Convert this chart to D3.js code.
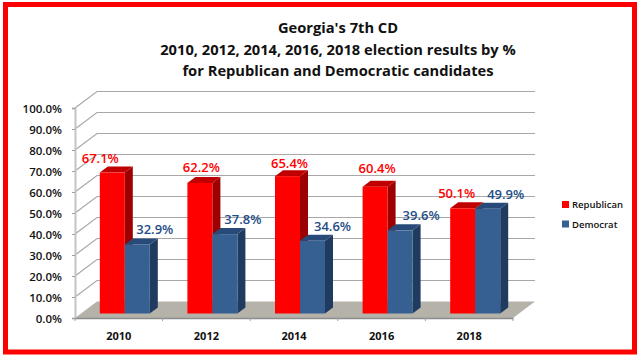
<!DOCTYPE html>
<html>
<head>
<meta charset="utf-8">
<script src="https://cdn.jsdelivr.net/npm/d3@7"></script>
<style>
html,body{margin:0;padding:0;background:#fff;overflow:hidden}
text{font-family:"Open Sans",sans-serif}
</style>
</head>
<body>
<script>
//DATA
const titleLines = ["Georgia's 7th CD", "2010, 2012, 2014, 2016, 2018 election results by %", "for Republican and Democratic candidates"]
const years = ["2010", "2012", "2014", "2016", "2018"]
const republican = [67.1, 62.2, 65.4, 60.4, 50.1]
const democrat = [32.9, 37.8, 34.6, 39.6, 49.9]
const seriesNames = ["Republican", "Democrat"]
const yTicks = [0, 10, 20, 30, 40, 50, 60, 70, 80, 90, 100]

//LABELS WERE HAND PLACED IN THE ORIGINAL, SO THEY GET A NUDGE EACH
const repNudge = [-12, 1.5, 2, 2, -6]
const repLift = [0, 1, -2, 3.5, 0]
const demNudge = [17.5, 18, 20, 21, 18]

//USEFUL VARIABLES
const width = 640, height = 357
const plot = {left: 75, right: 513, top: 108, bottom: 318}
const wall = {dx: 22, dy: 16.5} //DEPTH OF THE 3D BOX
const bar = {dx: 8, dy: 6, shiftX: 6, shiftY: 4.5, width: 25}
const colors = {
    rep: {front: "#ff0000", top: "#c00000", side: "#9c0000"},
    dem: {front: "#376092", top: "#274a78", side: "#1f3b60"},
}

const svg = d3.select("body").append("svg")
    .attr("width", width).attr("height", height)
    .style("display", "block")

//DEFINING SCALES
const X = d3.scaleBand().domain(years).range([plot.left, plot.right])
const Y = d3.scaleLinear().domain([0, 100]).range([plot.bottom, plot.top])

//BORDER
svg.append("rect")
    .attr("x", 5.5).attr("y", 4.5)
    .attr("width", 629).attr("height", 347.5)
    .attr("fill", "#fff").attr("stroke", "#ff0000").attr("stroke-width", 5)

//TITLE
svg.append("g").selectAll("text").data(titleLines).enter().append("text")
    .attr("x", 338)
    .attr("y", (d, i) => 33 + i * 21.5)
    .attr("text-anchor", "middle")
    .attr("font-size", 14.7)
    .attr("font-weight", 700)
    .attr("fill", "#111")
    .text(d => d)

//FLOOR
svg.append("path")
    .attr("d", `M${plot.left},${plot.bottom}L${plot.left + wall.dx},${plot.bottom - wall.dy}L${plot.right + wall.dx},${plot.bottom - wall.dy}L${plot.right},${plot.bottom}Z`)
    .attr("fill", "#b5b2aa")

//GRIDLINES ON THE WALLS
const grid = svg.append("g").attr("fill", "none").attr("stroke", "#a8a8a8").attr("stroke-width", 1.2)
yTicks.filter(d => d > 0).forEach(d => {
    grid.append("path")
        .attr("d", `M${plot.left},${Y(d)}L${plot.left + wall.dx},${Y(d) - wall.dy}L${plot.right + wall.dx},${Y(d) - wall.dy}`)
})

//AXES
const yaxis = svg.append("g")
    .attr("transform", `translate(${plot.left},0)`)
    .call(d3.axisLeft(Y).tickValues(yTicks).tickFormat(d => d.toFixed(1) + "%").tickSize(3).tickPadding(10))
const xaxis = svg.append("g")
    .attr("transform", `translate(0,${plot.bottom})`)
    .call(d3.axisBottom(X).tickSize(0).tickPadding(14))
yaxis.select(".domain").attr("stroke", "#c4c4c4").attr("stroke-width", 2)
yaxis.selectAll(".tick line").attr("stroke", "#a0a0a0")
yaxis.selectAll("text").attr("font-size", 11.5).attr("font-weight", 600).attr("fill", "#111")
    .attr("y", 1)
    .attr("font-family", '"Open Sans",sans-serif')
xaxis.select(".domain").attr("stroke", "#8c8c8c").attr("stroke-width", 1.5)
xaxis.selectAll("text").attr("font-size", 11).attr("font-weight", 700).attr("fill", "#111")
    .attr("font-family", '"Open Sans",sans-serif')

//X TICK MARKS SIT BETWEEN THE CATEGORIES
svg.append("g").selectAll("line").data(years.concat("end")).enter().append("line")
    .attr("x1", (d, i) => plot.left + i * X.bandwidth())
    .attr("x2", (d, i) => plot.left + i * X.bandwidth())
    .attr("y1", plot.bottom).attr("y2", plot.bottom + 3)
    .attr("stroke", "#a0a0a0")

//BARS
const drawBar = (g, x, value, c) => {
    const x0 = x, x1 = x + bar.width
    const y0 = Y(0) - bar.shiftY
    const y1 = Y(value) - bar.shiftY
    g.append("path").attr("fill", c.side)
        .attr("d", `M${x1},${y1}L${x1 + bar.dx},${y1 - bar.dy}L${x1 + bar.dx},${y0 - bar.dy}L${x1},${y0}Z`)
    g.append("path").attr("fill", c.top)
        .attr("d", `M${x0},${y1}L${x0 + bar.dx},${y1 - bar.dy}L${x1 + bar.dx},${y1 - bar.dy}L${x1},${y1}Z`)
    g.append("rect").attr("fill", c.front)
        .attr("x", x0).attr("y", y1).attr("width", bar.width).attr("height", y0 - y1)
}

const bars = svg.append("g")
years.forEach((year, i) => {
    const mid = X(year) + X.bandwidth() / 2 + bar.shiftX
    drawBar(bars, mid - bar.width, republican[i], colors.rep)
    drawBar(bars, mid, democrat[i], colors.dem)
})

//DATA LABELS
const labels = svg.append("g").attr("font-size", 13).attr("text-anchor", "middle")
years.forEach((year, i) => {
    const mid = X(year) + X.bandwidth() / 2 + bar.shiftX
    labels.append("text")
        .attr("x", mid - bar.width / 2 + repNudge[i])
        .attr("y", Y(republican[i]) - bar.shiftY - bar.dy - 4 - repLift[i])
        .attr("fill", "#ff0000").attr("font-weight", 600)
        .text(republican[i].toFixed(1) + "%")
    labels.append("text")
        .attr("x", mid + bar.width / 2 + demNudge[i])
        .attr("y", Y(democrat[i]) - bar.shiftY - bar.dy - 4)
        .attr("fill", "#1f4e86").attr("font-weight", 600)
        .text(democrat[i].toFixed(1) + "%")
})

//LEGEND
const legend = svg.append("g").attr("transform", "translate(562,201)")
seriesNames.forEach((name, i) => {
    legend.append("rect")
        .attr("x", 0).attr("y", i * 19.5)
        .attr("width", 7).attr("height", 7)
        .attr("fill", i == 0 ? colors.rep.front : colors.dem.front)
    legend.append("text")
        .attr("x", 10).attr("y", i * 19.5 + 7)
        .attr("font-size", 9.5).attr("font-weight", 600).attr("fill", "#111")
        .text(name)
})
</script>
</body>
</html>
